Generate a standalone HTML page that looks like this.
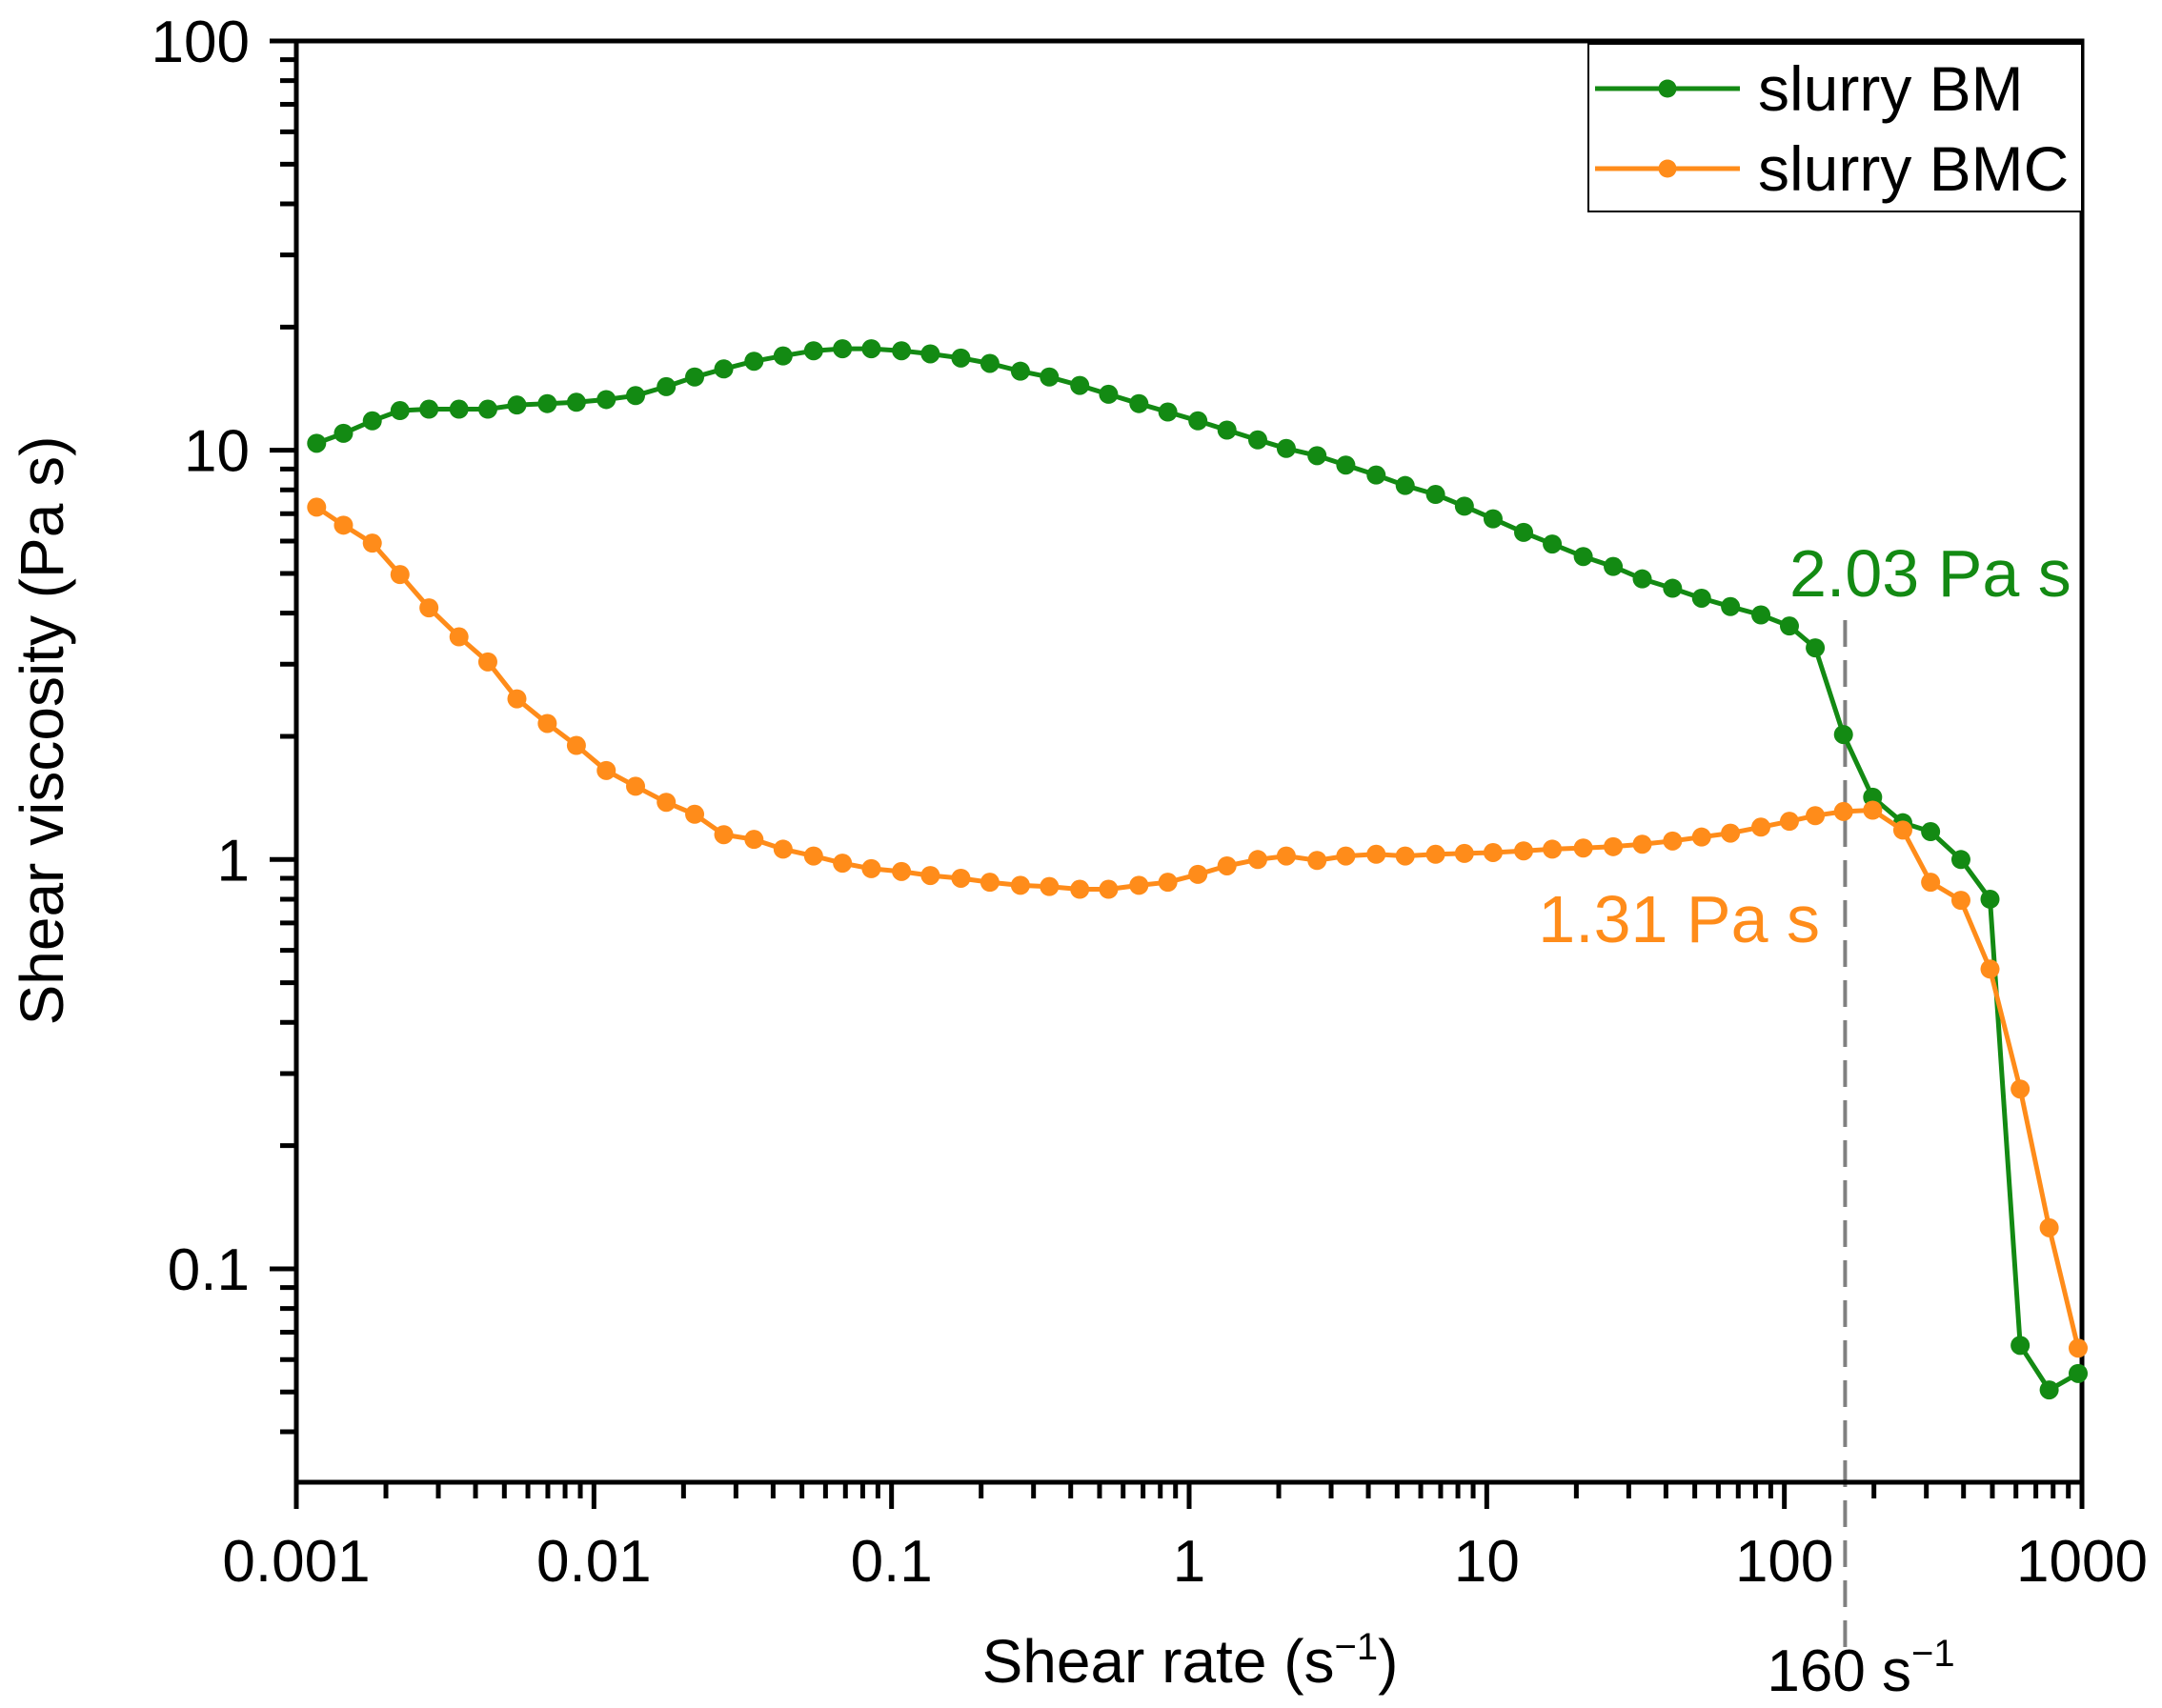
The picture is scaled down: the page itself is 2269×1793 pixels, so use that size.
<!DOCTYPE html>
<html><head><meta charset="utf-8"><style>
html,body{margin:0;padding:0;background:#fff;}
svg{display:block;font-family:"Liberation Sans",Arial,sans-serif;}
</style></head><body>
<svg id="chart" width="2269" height="1793" viewBox="0 0 2269 1793">
<g id="grid"></g>
<g id="series"></g>
<g>
<rect x="1667" y="46" width="518" height="176" fill="#fff" stroke="#000" stroke-width="2"/>
<g>
<line x1="1674" y1="93" x2="1826" y2="93" stroke="#138a13" stroke-width="5"/>
<circle cx="1750" cy="93" r="9.5" fill="#138a13"/>
<text x="1845" y="116" font-size="66" fill="#000">slurry BM</text></g>
<g>
<line x1="1674" y1="177" x2="1826" y2="177" stroke="#ff8c1a" stroke-width="5"/>
<circle cx="1750" cy="177" r="9.5" fill="#ff8c1a"/>
<text x="1845" y="200" font-size="66" fill="#000">slurry BMC</text></g>
</g>
<text x="1878" y="626" font-size="70" fill="#138a13">2.03 Pa s</text>
<text x="1910" y="989" font-size="70" fill="#ff8c1a" text-anchor="end">1.31 Pa s</text>
<text x="1249" y="1766" font-size="64" text-anchor="middle">Shear rate (s<tspan dy="-24" font-size="40">−1</tspan><tspan dy="24">)</tspan></text>
<text x="1953" y="1775" font-size="62" text-anchor="middle">160 s<tspan dy="-26" font-size="40">−1</tspan></text>
<text transform="translate(66,767) rotate(-90)" font-size="64" text-anchor="middle">Shear viscosity (Pa s)</text>
</svg>
<script>
const xValues=[0.00117,0.00144,0.0018,0.00223,0.00279,0.00352,0.0044,0.00551,0.00697,0.00873,
0.011,0.0138,0.0175,0.0218,0.0273,0.0345,0.0432,0.0547,0.0684,0.0855,
0.108,0.135,0.171,0.214,0.271,0.339,0.429,0.536,0.678,0.848,
1.07,1.34,1.70,2.12,2.69,3.36,4.25,5.32,6.73,8.41,
10.5,13.3,16.6,21.1,26.6,33.3,42.1,52.7,65.9,83.4,
104,127,158,198,250,310,392,491,620,776,971];
const bmValues=[10.4,11.0,11.8,12.5,12.6,12.6,12.6,12.9,13.0,13.1,
13.3,13.6,14.3,15.1,15.8,16.5,17.0,17.5,17.7,17.7,
17.5,17.2,16.8,16.3,15.6,15.1,14.4,13.7,13.0,12.4,
11.8,11.2,10.6,10.1,9.7,9.2,8.7,8.2,7.8,7.3,
6.8,6.3,5.9,5.5,5.2,4.85,4.6,4.35,4.15,3.96,
3.72,3.29,2.02,1.42,1.23,1.17,1.00,0.80,0.065,0.0506,0.0555];
const bmcValues=[7.26,6.56,5.93,4.97,4.12,3.50,3.04,2.47,2.15,1.90,
1.65,1.51,1.38,1.29,1.15,1.12,1.06,1.02,0.98,0.95,
0.935,0.914,0.90,0.88,0.865,0.859,0.846,0.846,0.865,0.88,
0.92,0.965,1.00,1.02,0.995,1.02,1.03,1.02,1.03,1.035,
1.04,1.05,1.06,1.067,1.075,1.09,1.11,1.135,1.16,1.20,
1.24,1.28,1.31,1.32,1.18,0.88,0.795,0.54,0.275,0.126,0.064];
const xTickLabels=["0.001","0.01","0.1","1","10","100","1000"];
const yTickLabels=["0.1","1","10","100"];
const markerRate=160;

const L=311,R=2185,T=43,B=1556;
const xMin=0.001,xMax=1000,yMin=0.0301,yMax=100;
function sx(v){return L+(Math.log10(v)-Math.log10(xMin))/(Math.log10(xMax)-Math.log10(xMin))*(R-L);}
function sy(v){return B-(Math.log10(v)-Math.log10(yMin))/(Math.log10(yMax)-Math.log10(yMin))*(B-T);}
const NS="http://www.w3.org/2000/svg";
function mk(tag,attrs,parent){const e=document.createElementNS(NS,tag);for(const k in attrs)e.setAttribute(k,attrs[k]);parent.appendChild(e);return e;}
const g=document.getElementById('grid'),s=document.getElementById('series');

const dl=mk('line',{x1:sx(markerRate),x2:sx(markerRate),y1:651,y2:1737,stroke:'#808080','stroke-width':4,'stroke-dasharray':'28 14'},g);



const fr=mk('rect',{x:L,y:T,width:R-L,height:B-T,fill:'none',stroke:'#000','stroke-width':5},g);



for(let d=-3;d<=3;d++){
  for(let m=1;m<=9;m++){
    const v=m*Math.pow(10,d); if(v>xMax*1.0001)break;
    const x=sx(v);
    const t=mk('line',{x1:x,x2:x,y1:B,y2:B+(m===1?28:17),stroke:'#000','stroke-width':5},g);
    
    
  }
}
xTickLabels.forEach(lb=>{
  const t=mk('text',{x:sx(parseFloat(lb)),y:1660,'font-size':62,'text-anchor':'middle'},g);
  t.textContent=lb;
  
  
});
for(let d=-2;d<=1;d++){
  for(let m=1;m<=9;m++){
    const v=m*Math.pow(10,d); if(v<yMin||v>yMax*1.0001)continue;
    const y=sy(v);
    const t=mk('line',{x1:L,x2:L-(m===1?28:17),y1:y,y2:y,stroke:'#000','stroke-width':5},g);
    
    
  }
}
{const y=sy(100);const t=mk('line',{x1:L,x2:L-28,y1:y,y2:y,stroke:'#000','stroke-width':5},g);

}
yTickLabels.forEach(lb=>{
  const t=mk('text',{x:262,y:sy(parseFloat(lb))+22,'font-size':62,'text-anchor':'end'},g);
  t.textContent=lb;
  
  
});

function drawSeries(vals,color,name){
  const pts=xValues.map((x,i)=>sx(x).toFixed(1)+','+sy(vals[i]).toFixed(1)).join(' ');
  const pl=mk('polyline',{points:pts,fill:'none',stroke:color,'stroke-width':5,'stroke-linejoin':'round'},s);
  
  
  xValues.forEach((x,i)=>{
    const c=mk('circle',{cx:sx(x),cy:sy(vals[i]),r:10,fill:color},s);
    
    
  });
}
drawSeries(bmValues,'#138a13','slurry-bm');
drawSeries(bmcValues,'#ff8c1a','slurry-bmc');
</script>
</body></html>
